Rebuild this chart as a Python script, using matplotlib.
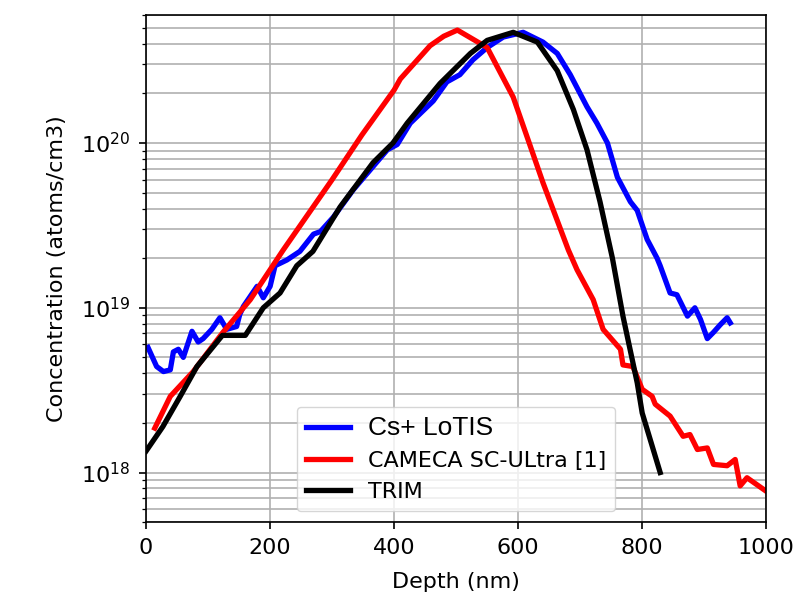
import matplotlib
matplotlib.use("Agg")
import matplotlib.pyplot as plt

# Cs+ LoTIS (measured)
lotis_x = [3, 17, 28, 39, 44, 52, 60, 74, 84, 92, 106, 119, 130, 146, 151, 157,
           179, 189, 200, 208, 227, 248, 270, 281, 302, 334, 366, 389, 405, 426,
           463, 485, 506, 527, 550, 576, 608, 640, 663, 684, 711, 727, 744, 760,
           781, 792, 808, 824, 829, 845, 856, 873, 885, 894, 905, 915, 926, 937, 942]
lotis_y = [5.75e18, 4.4e18, 4.1e18, 4.2e18, 5.4e18, 5.6e18, 5.0e18, 7.2e18, 6.2e18,
           6.5e18, 7.4e18, 8.7e18, 7.4e18, 7.7e18, 9.1e18, 1.02e19, 1.35e19, 1.15e19,
           1.35e19, 1.8e19, 1.95e19, 2.2e19, 2.8e19, 2.9e19, 3.55e19, 5.2e19, 7.2e19,
           9.1e19, 9.8e19, 1.32e20, 1.8e20, 2.35e20, 2.6e20, 3.2e20, 3.8e20, 4.4e20,
           4.7e20, 4.1e20, 3.5e20, 2.6e20, 1.66e20, 1.32e20, 1.0e20, 6.2e19, 4.4e19,
           3.9e19, 2.6e19, 2.0e19, 1.8e19, 1.23e19, 1.2e19, 8.9e18, 1.0e19, 8.5e18,
           6.5e18, 7.1e18, 7.9e18, 8.7e18, 8.1e18]

# CAMECA SC-Ultra
cameca_x = [14, 39, 76, 124, 168, 221, 300, 348, 400, 410, 458, 480, 502, 550, 592,
            614, 640, 681, 695, 721, 737, 765, 769, 785, 800, 816, 821, 845, 866,
            877, 889, 905, 915, 937, 950, 958, 969, 1000]
cameca_y = [1.86e18, 2.9e18, 4.1e18, 7.1e18, 1.12e19, 2.24e19, 6.0e19, 1.12e20,
            2.1e20, 2.45e20, 3.9e20, 4.45e20, 4.85e20, 3.8e20, 1.9e20, 1.1e20,
            5.75e19, 2.24e19, 1.7e19, 1.12e19, 7.4e18, 5.6e18, 4.5e18, 4.4e18,
            3.2e18, 2.9e18, 2.6e18, 2.2e18, 1.66e18, 1.7e18, 1.38e18, 1.41e18,
            1.12e18, 1.1e18, 1.2e18, 8.3e17, 9.3e17, 7.7e17]

# TRIM simulation
trim_x = [0, 27, 55, 82, 123, 160, 189, 216, 243, 269, 313, 366, 398, 421, 474,
          523, 550, 592, 631, 663, 689, 711, 732, 752, 769, 792, 800, 829]
trim_y = [1.35e18, 1.9e18, 2.9e18, 4.4e18, 6.8e18, 6.8e18, 1.0e19, 1.23e19, 1.8e19,
          2.2e19, 4.1e19, 7.6e19, 1.0e20, 1.32e20, 2.3e20, 3.5e20, 4.2e20, 4.7e20,
          4.1e20, 2.75e20, 1.6e20, 9.1e19, 4.4e19, 2.0e19, 8.9e18, 3.5e18, 2.3e18,
          1.0e18]

fs = 16
plt.rcParams['font.size'] = fs
plt.rcParams['axes.linewidth'] = 1.2
plt.rcParams['xtick.major.size'] = 5.25
plt.rcParams['ytick.major.size'] = 5.25
plt.rcParams['ytick.minor.size'] = 3
plt.rcParams['xtick.major.width'] = 1.2
plt.rcParams['ytick.major.width'] = 1.2
plt.rcParams['ytick.minor.width'] = 0.9
plt.rcParams['xtick.major.pad'] = 6
plt.rcParams['ytick.major.pad'] = 6

fig = plt.figure(figsize=(7.94, 5.94), dpi=100)
ax = fig.add_axes([0.184, 0.121, 0.781, 0.854])

ax.plot(lotis_x, lotis_y, color='blue', linewidth=3.8, label='Cs+ LoTIS')
ax.plot(cameca_x, cameca_y, color='red', linewidth=3.8, label='CAMECA SC-ULtra [1]')
ax.plot(trim_x, trim_y, color='black', linewidth=3.8, label='TRIM')

ax.set_yscale('log')
ax.set_xlim(0, 1000)
ax.set_ylim(5e17, 6e20)
ax.set_xlabel('Depth (nm)', labelpad=10)
ax.set_ylabel('Concentration (atoms/cm3)', labelpad=10)
ax.grid(True, which='major', color='#b0b0b0', linewidth=1.2)
ax.grid(True, which='minor', axis='y', color='#b0b0b0', linewidth=1.2)

leg = ax.legend(loc='lower center', fontsize=fs)
leg.get_texts()[0].set_fontfamily('Liberation Sans')
leg.get_texts()[0].set_fontsize(19)

fig.savefig('out.png', dpi=100)
